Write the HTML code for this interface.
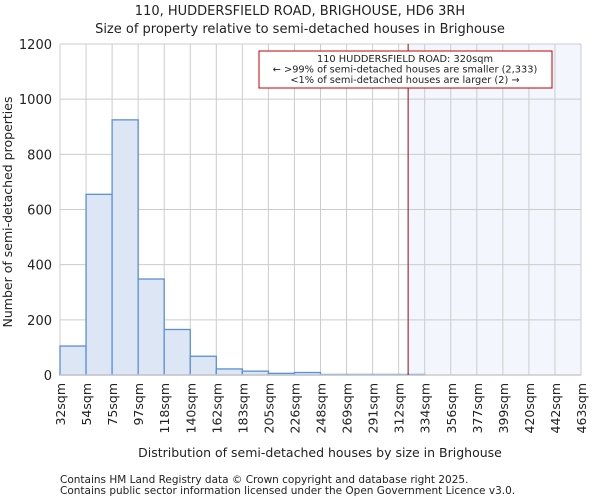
<!DOCTYPE html>
<html><head><meta charset="utf-8"><style>
body{margin:0;background:#fff;font-family:"DejaVu Sans","Liberation Sans",sans-serif;}
svg text{font-family:"DejaVu Sans","Liberation Sans",sans-serif;fill:#222;}
</style></head><body>
<svg id="chart" width="600" height="500" xmlns="http://www.w3.org/2000/svg">
<text x="300" y="15" font-size="13" text-anchor="middle">110, HUDDERSFIELD ROAD, BRIGHOUSE, HD6 3RH</text>
<text x="300" y="33" font-size="13" text-anchor="middle">Size of property relative to semi-detached houses in Brighouse</text>
<g id="plot"></g>
<text x="320" y="457" font-size="12.5" text-anchor="middle">Distribution of semi-detached houses by size in Brighouse</text>
<text transform="translate(12,212) rotate(-90)" font-size="12.5" text-anchor="middle">Number of semi-detached properties</text>
<text x="60" y="483" font-size="10.5" fill="#444">Contains HM Land Registry data © Crown copyright and database right 2025.</text>
<text x="60" y="494" font-size="10.5" fill="#444">Contains public sector information licensed under the Open Government Licence v3.0.</text>
</svg>
<script>
const binLabels=["32sqm","54sqm","75sqm","97sqm","118sqm","140sqm","162sqm","183sqm","205sqm","226sqm","248sqm","269sqm","291sqm","312sqm","334sqm","356sqm","377sqm","399sqm","420sqm","442sqm","463sqm"];
const binEdges=[32,54,75,97,118,140,162,183,205,226,248,269,291,312,334,356,377,399,420,442,463];
const counts=[105,655,925,348,165,68,22,14,6,9,2,2,2,2,0,0,0,0,0,0];
const yTicks=[0,200,400,600,800,1000,1200];
const propertySize=320;
const ns="http://www.w3.org/2000/svg";
const g=document.getElementById('plot');
const X0=60,X1=581,Y0=375,Y1=44,yMax=1200;
const bw=(X1-X0)/(binLabels.length-1);
const xi=i=>X0+i*bw;
function xv(v){for(let i=0;i<binEdges.length-1;i++){if(v<=binEdges[i+1])return xi(i)+(v-binEdges[i])/(binEdges[i+1]-binEdges[i])*bw;}return X1;}
const y=v=>Y0-(v/yMax)*(Y0-Y1);
function mk(t,a){const e=document.createElementNS(ns,t);for(const k in a)e.setAttribute(k,a[k]);g.appendChild(e);return e;}
const px=xv(propertySize);
let r=mk('rect',{x:px,y:Y1,width:X1-px,height:Y0-Y1,fill:'#f3f6fd'});


for(let i=0;i<binLabels.length;i++){let l=mk('line',{x1:xi(i),x2:xi(i),y1:Y1,y2:Y0,stroke:'#cccccc'});

}
yTicks.forEach(t=>{let l=mk('line',{x1:X0,x2:X1,y1:y(t),y2:y(t),stroke:'#cccccc'});


let tx=mk('text',{x:X0-8,y:y(t)+5,'font-size':13,'text-anchor':'end'});tx.textContent=t;

});
let last=-1;counts.forEach((c,i)=>{if(c>0)last=i;});
counts.forEach((c,i)=>{if(i>last)return;let b=mk('rect',{x:xi(i),y:y(c),width:bw,height:Y0-y(c),fill:'#dce6f4',stroke:'#5b8fd6','stroke-width':1.3});

});
binLabels.forEach((s,i)=>{let tx=mk('text',{transform:`translate(${xi(i)+5},383) rotate(-90)`,'font-size':12.5,'text-anchor':'end'});tx.textContent=s;

});
let ax=mk('line',{x1:X0,x2:X1,y1:Y0,y2:Y0,stroke:'#cccccc','stroke-width':1.5});


let ml=mk('line',{x1:px,x2:px,y1:Y1,y2:Y0,stroke:'#8b1010','stroke-width':1});


let box=mk('rect',{x:259,y:51,width:293,height:37,fill:'#fff',stroke:'#c00000','stroke-width':1});


["110 HUDDERSFIELD ROAD: 320sqm","← >99% of semi-detached houses are smaller (2,333)","<1% of semi-detached houses are larger (2) →"].forEach((s,i)=>{let tx=mk('text',{x:405,y:62+i*10.5,'font-size':9.8,'text-anchor':'middle'});tx.textContent=s;

});
</script>
</body></html>
